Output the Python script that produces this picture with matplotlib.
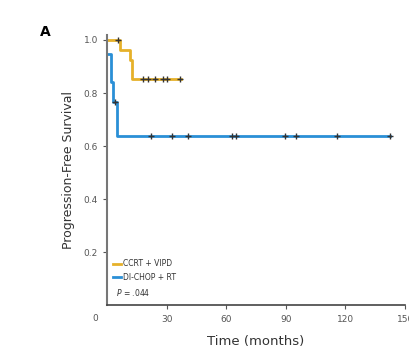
import matplotlib.pyplot as plt

plt.rcParams['font.family'] = ['Liberation Sans Narrow', 'DejaVu Sans']

# Courbes de Kaplan-Meier
ccrt_t = [0, 6.5, 11.5, 12.8, 37]
ccrt_s = [1.0, 0.963, 0.926, 0.852, 0.852]
ccrt_cens_t = [5.5, 18, 20.5, 24, 28, 30, 36.5]
ccrt_cens_s = [1.0, 0.852, 0.852, 0.852, 0.852, 0.852, 0.852]

chop_t = [0, 0.4, 1.8, 3, 5, 142.5]
chop_s = [0.947, 0.947, 0.842, 0.768, 0.638, 0.638]
chop_cens_t = [4, 22.3, 32.7, 41, 62.8, 64.8, 89.5, 95.2, 115.7, 142.3]
chop_cens_s = [0.768, 0.638, 0.638, 0.638, 0.638, 0.638, 0.638, 0.638, 0.638, 0.638]

xticks = [30, 60, 90, 120, 150]
yticks = [0.2, 0.4, 0.6, 0.8, 1.0]

yellow = "#e6b12a"
blue = "#2a8fd6"

fig = plt.figure(figsize=(4.10, 3.54), dpi=100)
ax = fig.add_axes([0.261, 0.138, 0.727, 0.764])

ax.step(chop_t, chop_s, where="post", color=blue, lw=2.0, label="DI-CHOP + RT")
ax.step(ccrt_t, ccrt_s, where="post", color=yellow, lw=2.0, label="CCRT + VIPD")
ax.plot(chop_cens_t, chop_cens_s, "+", color="#333333", ms=5, mew=1.0)
ax.plot(ccrt_cens_t, ccrt_cens_s, "+", color="#333333", ms=5, mew=1.0)

ax.set_xlim(0, 150)
ax.set_ylim(0, 1.02)
ax.set_xticks(xticks)
ax.set_yticks(yticks)
ax.set_yticklabels(["0.2", "0.4", "0.6", "0.8", "1.0"])
ax.tick_params(labelsize=6.5, colors="#555555", length=3, width=0.8)
ax.tick_params(axis="x", pad=4)
for s in ["top", "right"]:
    ax.spines[s].set_visible(False)
ax.spines["left"].set_color("#777777")
ax.spines["left"].set_linewidth(1.5)
ax.spines["bottom"].set_color("#444444")
ax.spines["bottom"].set_linewidth(1.2)

ax.text(-6, -0.05, "0", fontsize=6.5, color="#555555", ha="center", va="center",
        clip_on=False)

ax.set_ylabel("Progression-Free Survival", fontsize=9, color="#333333", labelpad=6)
ax.set_xlabel("Time (months)", fontsize=9.5, color="#333333", labelpad=8)

h, l = ax.get_legend_handles_labels()
leg = ax.legend([h[1], h[0]], [l[1], l[0]], loc="lower left",
                bbox_to_anchor=(0.01, 0.075), frameon=False, fontsize=5.5,
                handlelength=1.0, handletextpad=0.3, labelspacing=0.6,
                borderaxespad=0)
for t in leg.get_texts():
    t.set_color("#333333")
ax.text(0.03, 0.035, "$P$ = .044", transform=ax.transAxes, fontsize=5.5,
        color="#333333")

fig.text(0.11, 0.91, "A", fontsize=10, fontweight="bold", ha="center", va="center")

plt.savefig("out.png", dpi=100)
